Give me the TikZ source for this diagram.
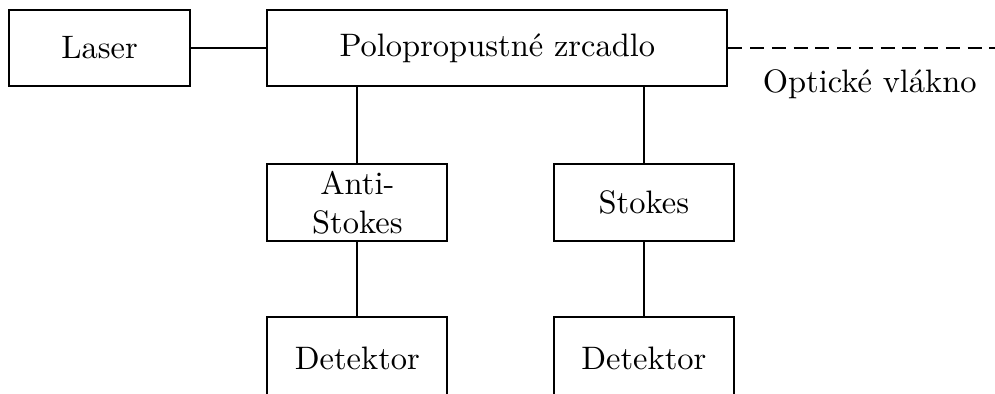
\documentclass[tikz,border=0pt]{standalone}
\usetikzlibrary{positioning}

\begin{document}
\begin{tikzpicture}[line width=0.6pt,
 blok/.style={draw, minimum width=1.95cm, minimum height=0.83cm}]
 \useasboundingbox (0,0) rectangle (10.77,-4.264);
 \node[blok] (laser) at (1.077,-0.519) {Laser};
 \node[blok, minimum width=4.98cm, right=0.82cm of laser] (zrcadlo) {Polopropustné zrcadlo};
 \node[blok, align=center, inner ysep=1pt, below=0.82cm of zrcadlo.south west, anchor=north west] (antistokes) {Anti-\\Stokes};
 \node[blok, right=1.13cm of antistokes] (stokes) {Stokes};
 \node[blok, minimum height=0.9cm, below=0.8cm of antistokes] (det1) {Detektor};
 \node[blok, minimum height=0.9cm, below=0.8cm of stokes] (det2) {Detektor};
 \coordinate[right=3.1cm of zrcadlo.east] (vlakno);
 \draw (laser) -- (zrcadlo);
 \draw[dash pattern=on 4.3pt off 2.4pt] (zrcadlo) -- (vlakno)
 node[midway, below=3pt, xshift=-0.2mm] {Optické vlákno};
 \draw (antistokes) -- (antistokes |- zrcadlo.south);
 \draw (stokes) -- (stokes |- zrcadlo.south);
 \draw (antistokes) -- (det1);
 \draw (stokes) -- (det2);
\end{tikzpicture}
\end{document}
